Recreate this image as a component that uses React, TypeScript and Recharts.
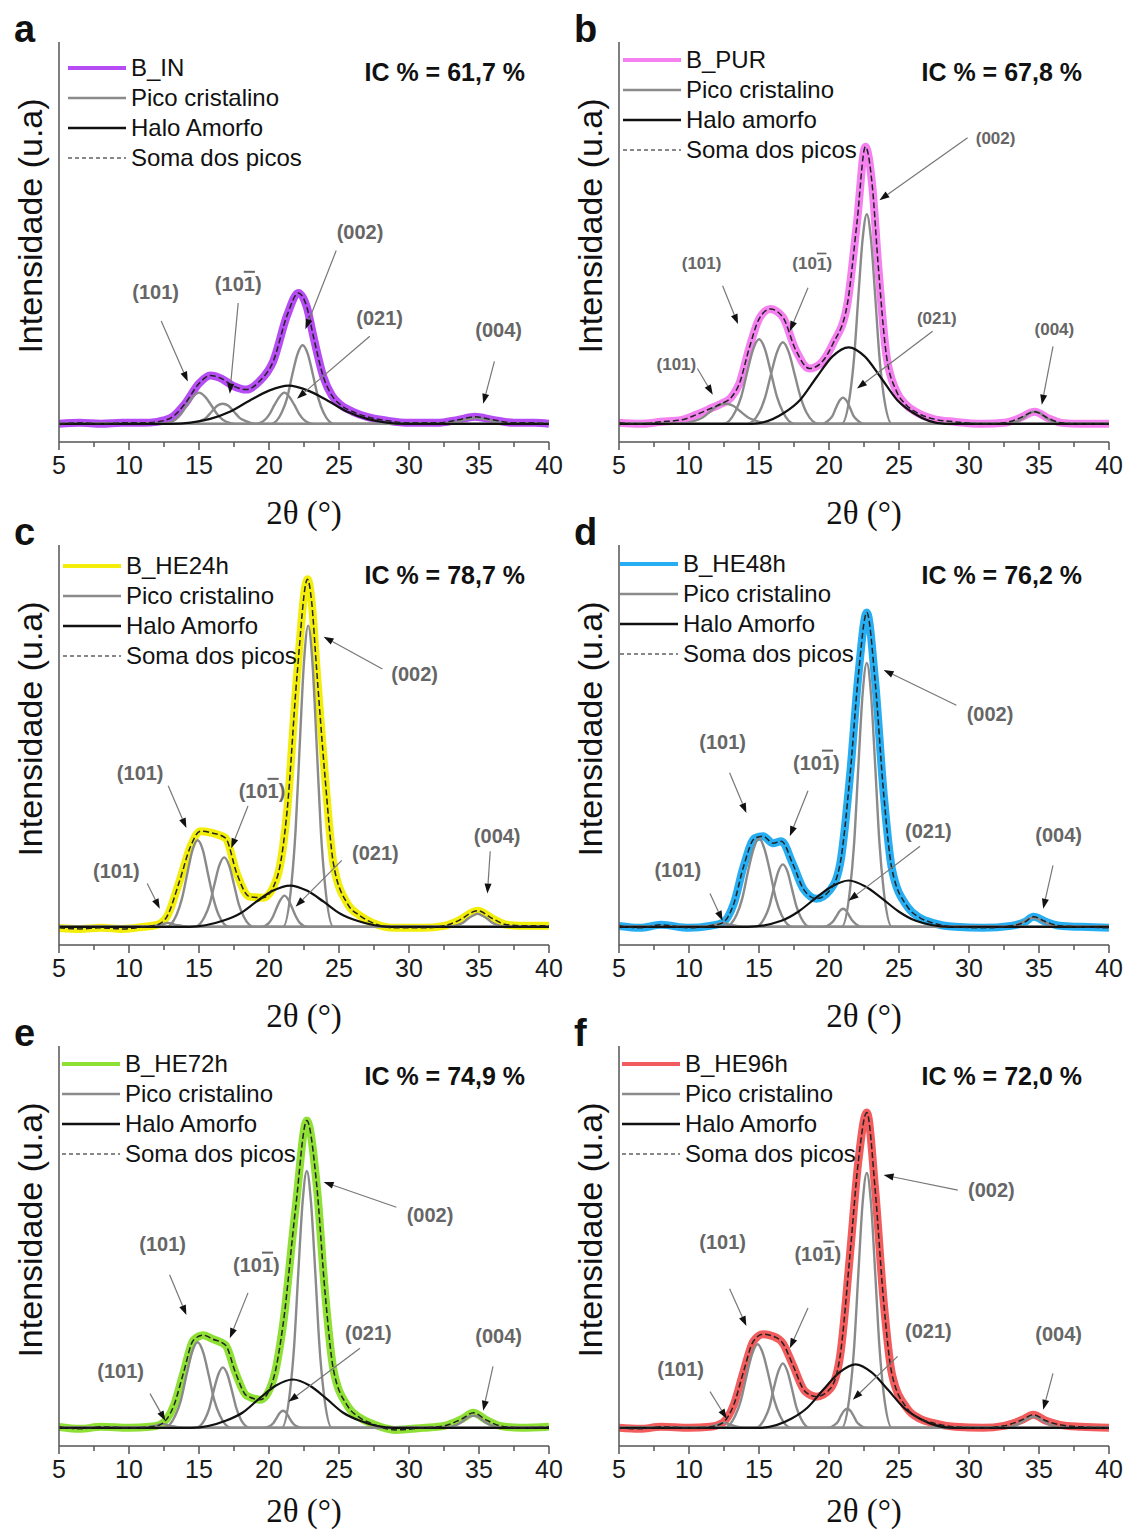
import React from "react";
import { LineChart, Line, XAxis, YAxis, ReferenceDot, ReferenceLine } from "recharts";

type P = [number, number];
type Note = { t: string; bar?: boolean; at: P; from: P; to: P };

const xTicks = [5, 7.5, 10, 12.5, 15, 17.5, 20, 22.5, 25, 27.5, 30, 32.5, 35, 37.5, 40];
const yDomain = [-18, 379];

// ---- a: B_IN
const aObs: P[] = [[5,0],[6.5,1],[8,0],[9.5,1],[11,1],[12,2],[13,6],[14,20],[15,40],[15.8,48],[16.6,45],[17.4,38],[18.4,34],[19.3,42],[20.3,62],[21.3,108],[22.1,130],[22.7,116],[23.2,85],[23.9,46],[24.5,28],[25.1,19],[26,12],[27,7],[28.5,3],[30,1],[32,1],[33.5,4],[34.7,7],[36,4],[37.5,1],[39,1],[40,0]];
const a101: P[] = [[5,0],[12.45,0],[13.3,4],[13.73,10],[14.15,19],[14.58,27],[15,31],[15.43,27],[15.85,19],[16.28,10],[16.7,4],[17.55,0],[40,0]];
const a10m: P[] = [[5,0],[14.3,0],[15.1,3],[15.5,6],[15.9,12],[16.3,18],[16.7,20],[17.1,18],[17.5,12],[17.9,6],[18.3,3],[19.1,0],[40,0]];
const a021: P[] = [[5,0],[19,0],[19.7,4],[20.05,10],[20.4,19],[20.75,27],[21.1,31],[21.45,27],[21.8,19],[22.15,10],[22.5,4],[23.2,0],[40,0]];
const a002: P[] = [[5,0],[20.15,0],[20.9,11],[21.28,25],[21.65,48],[22.03,69],[22.4,78],[22.78,69],[23.15,48],[23.53,25],[23.9,11],[24.65,0],[40,0]];
const a004: P[] = [[5,0],[32.1,0],[33,1],[33.45,2],[33.9,4],[34.35,5],[34.8,6],[35.25,5],[35.7,4],[36.15,2],[36.6,1],[37.5,0],[40,0]];
const aHalo: P[] = [[5,0],[13,0],[15.8,5],[17.2,12],[18.6,23],[20,33],[21.4,38],[22.8,33],[24.2,23],[25.6,12],[27,5],[29.8,0],[40,0]];
const aNotes: Note[] = [
  { t: "(101)", at: [11.9,131], from: [12.3,102], to: [14.2,42] },
  { t: "(101)", bar: true, at: [17.8,139], from: [17.8,120], to: [17.2,30] },
  { t: "(002)", at: [26.5,190], from: [24.8,172], to: [22.6,94] },
  { t: "(021)", at: [27.9,105], from: [27.2,87], to: [22.0,25] },
  { t: "(004)", at: [36.4,93], from: [36.1,62], to: [35.3,20] },
];

// ---- b: B_PUR
const bObs: P[] = [[5,1],[6.5,0],[8,2],[9.5,4],[10.5,9],[11.5,15],[12.3,20],[13,26],[13.6,40],[14.3,75],[15,104],[15.8,114],[16.7,106],[17.6,74],[18.6,55],[19.4,60],[20.3,80],[21.3,118],[22,200],[22.6,275],[23.1,235],[23.5,160],[24.1,68],[24.8,33],[25.5,19],[26.3,11],[27.4,5],[29,2],[31,0],[32.5,1],[33.5,5],[34.7,12],[35.6,6],[36.6,1],[38,0],[40,0]];
const b101a: P[] = [[5,0],[9.3,0],[10.4,3],[10.95,6],[11.5,12],[12.05,18],[12.6,20],[13.15,18],[13.7,12],[14.25,6],[14.8,3],[15.9,0],[40,0]];
const b101: P[] = [[5,0],[12.45,0],[13.3,12],[13.73,27],[14.15,51],[14.58,74],[15,84],[15.43,74],[15.85,51],[16.28,27],[16.7,12],[17.55,0],[40,0]];
const b10m: P[] = [[5,0],[14.15,0],[15,11],[15.43,26],[15.85,49],[16.28,71],[16.7,81],[17.13,71],[17.55,49],[17.98,26],[18.4,11],[19.25,0],[40,0]];
const b021: P[] = [[5,0],[19.5,0],[20,4],[20.25,8],[20.5,16],[20.75,23],[21,26],[21.25,23],[21.5,16],[21.75,8],[22,4],[22.5,0],[40,0]];
const b002: P[] = [[5,0],[20.9,0],[21.5,29],[21.8,67],[22.1,127],[22.4,183],[22.7,208],[23,183],[23.3,127],[23.6,67],[23.9,29],[24.5,0],[40,0]];
const b004: P[] = [[5,0],[32.6,0],[33.3,2],[33.65,4],[34,7],[34.35,11],[34.7,12],[35.05,11],[35.4,7],[35.75,4],[36.1,2],[36.8,0],[40,0]];
const bHalo: P[] = [[5,0],[14.5,0],[16.8,11],[17.95,24],[19.1,46],[20.25,67],[21.4,76],[22.55,67],[23.7,46],[24.85,24],[26,11],[28.3,0],[40,0]];
const bNotes: Note[] = [
  { t: "(101)", at: [10.9,159], from: [12.4,137], to: [13.5,99] },
  { t: "(101)", at: [9.1,59], from: [10.6,55], to: [11.7,29] },
  { t: "(101)", bar: true, at: [18.8,159], from: [18.5,135], to: [17.2,92] },
  { t: "(002)", at: [31.9,283], from: [29.9,284], to: [23.6,222] },
  { t: "(021)", at: [27.7,105], from: [27.4,92], to: [22.0,35] },
  { t: "(004)", at: [36.1,94], from: [36.0,77], to: [35.2,19] },
];

// ---- c: B_HE24h
const cObs: P[] = [[5,-1],[6.5,-2],[8,-1],[9.5,-2],[11,0],[12,2],[12.7,10],[13.6,45],[14.4,80],[15.1,95],[16,93],[16.9,88],[17.7,53],[18.6,30],[19.6,29],[20.6,50],[21.3,116],[22,249],[22.75,345],[23.05,322],[23.4,256],[24,149],[24.6,63],[25.6,23],[26.5,11],[27.4,4],[29,-1],[31,-1],[32.5,1],[33.5,6],[34.9,16],[36,8],[37,2],[38.5,1],[40,1]];
const c101a: P[] = [[5,0],[11.3,0],[11.8,1],[12.3,2],[12.8,4],[13.3,2],[13.8,1],[14.3,0],[40,0]];
const c101: P[] = [[5,0],[12.65,0],[13.4,12],[13.78,28],[14.15,52],[14.53,76],[14.9,86],[15.28,76],[15.65,52],[16.03,28],[16.4,12],[17.15,0],[40,0]];
const c10m: P[] = [[5,0],[14.7,0],[15.4,10],[15.75,22],[16.1,42],[16.45,61],[16.8,69],[17.15,61],[17.5,42],[17.85,22],[18.2,10],[18.9,0],[40,0]];
const c021: P[] = [[5,0],[19.45,0],[20,4],[20.28,10],[20.55,19],[20.83,27],[21.1,31],[21.38,27],[21.65,19],[21.93,10],[22.2,4],[22.75,0],[40,0]];
const c002: P[] = [[5,0],[21,0],[21.6,42],[21.9,96],[22.2,182],[22.5,263],[22.8,299],[23.1,263],[23.4,182],[23.7,96],[24,42],[24.6,0],[40,0]];
const c004: P[] = [[5,0],[32.8,0],[33.5,2],[33.85,4],[34.2,8],[34.55,11],[34.9,13],[35.25,11],[35.6,8],[35.95,4],[36.3,2],[37,0],[40,0]];
const cHalo: P[] = [[5,0],[14.3,0],[16.7,6],[17.9,13],[19.1,25],[20.3,36],[21.5,41],[22.7,36],[23.9,25],[25.1,13],[26.3,6],[28.7,0],[40,0]];
const cNotes: Note[] = [
  { t: "(002)", at: [30.4,251], from: [28.1,256], to: [23.9,288] },
  { t: "(101)", at: [10.8,153], from: [12.8,140], to: [14.1,98] },
  { t: "(101)", at: [9.1,55], from: [11.3,43], to: [12.2,18] },
  { t: "(101)", bar: true, at: [19.5,135], from: [18.5,120], to: [17.3,78] },
  { t: "(021)", at: [27.6,73], from: [25.2,66], to: [21.9,20] },
  { t: "(004)", at: [36.3,90], from: [35.8,75], to: [35.6,33] },
];

// ---- d: B_HE48h
const dObs: P[] = [[5,1],[6.5,-1],[8,2],[10,-1],[11.5,1],[12.4,4],[13.2,23],[13.9,60],[14.7,88],[15.3,90],[16,83],[16.6,85],[17.4,63],[18.2,37],[19.1,28],[20.1,37],[20.8,63],[21.5,150],[22.1,250],[22.7,312],[23.3,243],[23.9,133],[24.5,57],[25.6,20],[26.5,9],[27.4,4],[29,0],[31,-1],[33,1],[34,5],[34.6,10],[35.5,5],[36.5,1],[38,0],[40,-1]];
const d101a: P[] = [[5,0],[10.9,0],[11.4,1],[11.9,2],[12.4,4],[12.9,2],[13.4,1],[13.9,0],[40,0]];
const d101: P[] = [[5,0],[12.6,0],[13.4,12],[13.8,28],[14.2,54],[14.6,77],[15,88],[15.4,77],[15.8,54],[16.2,28],[16.6,12],[17.4,0],[40,0]];
const d10m: P[] = [[5,0],[14.75,0],[15.4,9],[15.73,20],[16.05,38],[16.38,55],[16.7,62],[17.03,55],[17.35,38],[17.68,20],[18,9],[18.65,0],[40,0]];
const d021: P[] = [[5,0],[19.65,0],[20.1,3],[20.33,6],[20.55,11],[20.78,16],[21,18],[21.23,16],[21.45,11],[21.68,6],[21.9,3],[22.35,0],[40,0]];
const d002: P[] = [[5,0],[20.9,0],[21.5,37],[21.8,84],[22.1,160],[22.4,231],[22.7,262],[23,231],[23.3,160],[23.6,84],[23.9,37],[24.5,0],[40,0]];
const d004: P[] = [[5,0],[32.5,0],[33.2,1],[33.55,3],[33.9,5],[34.25,8],[34.6,9],[34.95,8],[35.3,5],[35.65,3],[36,1],[36.7,0],[40,0]];
const dHalo: P[] = [[5,0],[14.2,0],[16.6,6],[17.8,15],[19,28],[20.2,40],[21.4,46],[22.6,40],[23.8,28],[25,15],[26.2,6],[28.6,0],[40,0]];
const dNotes: Note[] = [
  { t: "(002)", at: [31.5,211], from: [29.1,220], to: [23.9,255] },
  { t: "(101)", at: [12.4,183], from: [12.9,153], to: [14.1,113] },
  { t: "(101)", at: [9.2,56], from: [11.5,33], to: [12.4,6] },
  { t: "(101)", bar: true, at: [19.1,163], from: [18.5,135], to: [17.2,90] },
  { t: "(021)", at: [27.1,95], from: [26.5,80], to: [21.4,26] },
  { t: "(004)", at: [36.4,91], from: [36.0,61], to: [35.3,18] },
];

// ---- e: B_HE72h
const eObs: P[] = [[5,1],[6.5,-1],[8,1],[10,0],[11.5,1],[12.2,3],[13.2,22],[13.9,55],[14.6,87],[15.3,92],[16,88],[16.9,82],[17.6,55],[18.4,32],[19.4,28],[20.3,48],[21,102],[21.9,218],[22.7,305],[23.4,242],[24,135],[24.6,58],[25.6,22],[26.5,10],[27.4,4],[29,-2],[31,0],[32.5,2],[33.8,9],[34.6,15],[35.5,8],[36.5,2],[38,0],[40,1]];
const e101a: P[] = [[5,0],[10.9,0],[11.4,1],[11.9,2],[12.4,4],[12.9,2],[13.4,1],[13.9,0],[40,0]];
const e101: P[] = [[5,0],[12.5,0],[13.3,12],[13.7,27],[14.1,52],[14.5,75],[14.9,85],[15.3,75],[15.7,52],[16.1,27],[16.5,12],[17.3,0],[40,0]];
const e10m: P[] = [[5,0],[14.75,0],[15.4,8],[15.73,19],[16.05,37],[16.38,53],[16.7,60],[17.03,53],[17.35,37],[17.68,19],[18,8],[18.65,0],[40,0]];
const e021: P[] = [[5,0],[19.65,0],[20.1,2],[20.33,5],[20.55,10],[20.78,15],[21,17],[21.23,15],[21.45,10],[21.68,5],[21.9,2],[22.35,0],[40,0]];
const e002: P[] = [[5,0],[20.9,0],[21.5,36],[21.8,82],[22.1,156],[22.4,224],[22.7,255],[23,224],[23.3,156],[23.6,82],[23.9,36],[24.5,0],[40,0]];
const e004: P[] = [[5,0],[32.5,0],[33.2,2],[33.55,4],[33.9,7],[34.25,11],[34.6,12],[34.95,11],[35.3,7],[35.65,4],[36,2],[36.7,0],[40,0]];
const eHalo: P[] = [[5,0],[14.5,0],[16.9,7],[18.1,15],[19.3,29],[20.5,42],[21.7,48],[22.9,42],[24.1,29],[25.3,15],[26.5,7],[28.9,0],[40,0]];
const eNotes: Note[] = [
  { t: "(002)", at: [31.5,211], from: [29.1,219], to: [23.9,244] },
  { t: "(101)", at: [12.4,182], from: [12.9,152], to: [14.1,112] },
  { t: "(101)", at: [9.4,56], from: [11.5,34], to: [12.6,7] },
  { t: "(101)", bar: true, at: [19.1,162], from: [18.5,134], to: [17.2,89] },
  { t: "(021)", at: [27.1,94], from: [26.5,79], to: [21.4,26] },
  { t: "(004)", at: [36.4,91], from: [36.0,61], to: [35.3,17] },
];

// ---- f: B_HE96h
const fObs: P[] = [[5,0],[6.5,-1],[8,1],[10,0],[11.5,1],[12.4,5],[13.2,23],[13.9,56],[14.6,86],[15.3,93],[16,91],[16.7,84],[17.4,63],[18.3,36],[19.1,31],[20.1,39],[20.8,72],[21.5,172],[22.1,265],[22.7,313],[23.3,236],[23.9,126],[24.5,53],[25.6,19],[26.5,9],[27.4,5],[29,1],[31,0],[32.5,2],[33.8,8],[34.6,13],[35.5,7],[36.5,3],[38,1],[40,0]];
const f101a: P[] = [[5,0],[11,0],[11.5,1],[12,3],[12.5,5],[13,3],[13.5,1],[14,0],[40,0]];
const f101: P[] = [[5,0],[12.5,0],[13.3,12],[13.7,27],[14.1,51],[14.5,73],[14.9,83],[15.3,73],[15.7,51],[16.1,27],[16.5,12],[17.3,0],[40,0]];
const f10m: P[] = [[5,0],[14.75,0],[15.4,9],[15.73,20],[16.05,39],[16.38,56],[16.7,64],[17.03,56],[17.35,39],[17.68,20],[18,9],[18.65,0],[40,0]];
const f021: P[] = [[5,0],[19.95,0],[20.4,3],[20.63,6],[20.85,12],[21.08,17],[21.3,19],[21.53,17],[21.75,12],[21.98,6],[22.2,3],[22.65,0],[40,0]];
const f002: P[] = [[5,0],[20.9,0],[21.5,35],[21.8,81],[22.1,154],[22.4,223],[22.7,253],[23,223],[23.3,154],[23.6,81],[23.9,35],[24.5,0],[40,0]];
const f004: P[] = [[5,0],[32.5,0],[33.2,2],[33.55,4],[33.9,7],[34.25,10],[34.6,11],[34.95,10],[35.3,7],[35.65,4],[36,2],[36.7,0],[40,0]];
const fHalo: P[] = [[5,0],[15,0],[17.3,9],[18.45,20],[19.6,38],[20.75,55],[21.9,63],[23.05,55],[24.2,38],[25.35,20],[26.5,9],[28.8,0],[40,0]];
const fNotes: Note[] = [
  { t: "(002)", at: [31.6,236], from: [29.2,236], to: [23.9,251] },
  { t: "(101)", at: [12.4,184], from: [12.9,138], to: [14.1,101] },
  { t: "(101)", at: [9.4,58], from: [11.5,36], to: [12.7,9] },
  { t: "(101)", bar: true, at: [19.2,173], from: [18.5,119], to: [17.2,79] },
  { t: "(021)", at: [27.1,96], from: [24.9,71], to: [21.7,28] },
  { t: "(004)", at: [36.4,93], from: [36.0,54], to: [35.3,18] },
];

const legendRest = ["Pico cristalino", "Halo Amorfo", "Soma dos picos"];

const panels = [
  { letter: "a", name: "B_IN", color: "#b64cf4", ic: "IC % = 61,7 %", obs: aObs, peaks: [a101, a10m, a021, a002, a004], halo: aHalo, notes: aNotes, halo2: "Halo Amorfo", left: 0, top: 0, legX: 68, legY: 53, icR: 55, noteSize: 20, titleOff: 16 },
  { letter: "b", name: "B_PUR", color: "#f580f0", ic: "IC % = 67,8 %", obs: bObs, peaks: [b101a, b101, b10m, b021, b002, b004], halo: bHalo, notes: bNotes, halo2: "Halo amorfo", left: 560, top: 0, legX: 63, legY: 45, icR: 58, noteSize: 17, titleOff: 16 },
  { letter: "c", name: "B_HE24h", color: "#f2ee0a", ic: "IC % = 78,7 %", obs: cObs, peaks: [c101a, c101, c10m, c021, c002, c004], halo: cHalo, notes: cNotes, halo2: "Halo Amorfo", left: 0, top: 503, legX: 63, legY: 48, icR: 55, noteSize: 20, titleOff: 16 },
  { letter: "d", name: "B_HE48h", color: "#27aef2", ic: "IC % = 76,2 %", obs: dObs, peaks: [d101a, d101, d10m, d021, d002, d004], halo: dHalo, notes: dNotes, halo2: "Halo Amorfo", left: 560, top: 503, legX: 60, legY: 46, icR: 58, noteSize: 20, titleOff: 16 },
  { letter: "e", name: "B_HE72h", color: "#8fe034", ic: "IC % = 74,9 %", obs: eObs, peaks: [e101a, e101, e10m, e021, e002, e004], halo: eHalo, notes: eNotes, halo2: "Halo Amorfo", left: 0, top: 1004, legX: 62, legY: 45, icR: 55, noteSize: 20, titleOff: 22 },
  { letter: "f", name: "B_HE96h", color: "#f25c5c", ic: "IC % = 72,0 %", obs: fObs, peaks: [f101a, f101, f10m, f021, f002, f004], halo: fHalo, notes: fNotes, halo2: "Halo Amorfo", left: 560, top: 1004, legX: 62, legY: 45, icR: 58, noteSize: 20, titleOff: 22 },
];

const SANS = "'Liberation Sans', Arial, sans-serif";
const FRAME = "#555";
const GRAY = "#8a8a8a";

const pts = (a: P[]) => a.map(([x, y]) => ({ x, y }));

function XTick(props: any) {
  const { x, y, payload } = props;
  const major = payload.value % 5 === 0;
  return (
    <g>
      <line x1={x} x2={x} y1={y} y2={y + (major ? 8 : 5)} stroke={FRAME} strokeWidth={1.5} />
      {major && (
        <text x={x} y={y + 32} textAnchor="middle" fontSize={25} fontFamily={SANS} fill="#1a1a1a">
          {payload.value}
        </text>
      )}
    </g>
  );
}

function Arrow(props: any) {
  const { x1, y1, x2, y2 } = props;
  const dx = x2 - x1;
  const dy = y2 - y1;
  const len = Math.hypot(dx, dy) || 1;
  const ux = dx / len;
  const uy = dy / len;
  const bx = x2 - ux * 10;
  const by = y2 - uy * 10;
  return (
    <g>
      <line x1={x1} y1={y1} x2={bx} y2={by} stroke="#777" strokeWidth={1.2} />
      <polygon points={`${x2},${y2} ${bx - uy * 3.5},${by + ux * 3.5} ${bx + uy * 3.5},${by - ux * 3.5}`} fill="#111" />
    </g>
  );
}

function noteText(n: Note, size: number) {
  return (props: any) => (
    <text x={props.cx} y={props.cy} textAnchor="middle" dominantBaseline="central" fontSize={size} fontWeight="bold" fontFamily={SANS} fill="#666">
      {n.bar ? (
        <>
          (10<tspan style={{ textDecoration: "overline" }}>1</tspan>)
        </>
      ) : (
        n.t
      )}
    </text>
  );
}

function Panel({ p }: { p: (typeof panels)[number] }) {
  const legend = [p.name, legendRest[0], p.halo2, legendRest[2]];
  return (
    <div style={{ position: "absolute", left: p.left, top: p.top, width: 580, height: 540 }}>
      <LineChart width={580} height={540} margin={{ top: 42, right: 31, bottom: 0, left: 0 }}>
        <XAxis
          dataKey="x"
          type="number"
          domain={[5, 40]}
          allowDataOverflow
          ticks={xTicks}
          interval={0}
          tick={<XTick />}
          tickLine={false}
          tickSize={0}
          tickMargin={0}
          height={98}
          axisLine={{ stroke: FRAME, strokeWidth: 1.5 }}
          label={{ value: "2θ (°)", position: "insideBottom", offset: p.titleOff, fontSize: 33, fontFamily: "'Liberation Serif', serif", fill: "#111" }}
        />
        <XAxis xAxisId="top" orientation="top" dataKey="x" type="number" domain={[5, 40]} allowDataOverflow height={0} tick={false} tickLine={false} axisLine={{ stroke: FRAME, strokeWidth: 1.5 }} />
        <YAxis
          type="number"
          domain={yDomain}
          allowDataOverflow
          width={59}
          tick={false}
          tickLine={false}
          axisLine={{ stroke: FRAME, strokeWidth: 1.5 }}
          label={{ value: "Intensidade (u.a)", angle: -90, position: "center", dy: -16, fontSize: 34, fontFamily: SANS, fill: "#111" }}
        />
        <YAxis yAxisId="r" orientation="right" type="number" domain={yDomain} allowDataOverflow width={0} tick={false} tickLine={false} axisLine={{ stroke: FRAME, strokeWidth: 1.5 }} />
        <Line data={pts(p.obs)} dataKey="y" type="monotone" stroke={p.color} strokeWidth={8} strokeLinejoin="round" dot={false} isAnimationActive={false} />
        {p.peaks.map((pk, i) => (
          <Line key={"pk" + i} data={pts(pk)} dataKey="y" type="monotone" stroke={GRAY} strokeWidth={2.4} dot={false} isAnimationActive={false} />
        ))}
        <Line data={pts(p.halo)} dataKey="y" type="monotone" stroke="#111" strokeWidth={2.2} dot={false} isAnimationActive={false} />
        <Line data={pts(p.obs)} dataKey="y" type="monotone" stroke="#222" strokeWidth={1.5} strokeDasharray="6 3" dot={false} isAnimationActive={false} />
        {p.notes.map((n, i) => (
          <ReferenceLine key={"ar" + i} segment={[{ x: n.from[0], y: n.from[1] }, { x: n.to[0], y: n.to[1] }]} shape={Arrow} />
        ))}
        {p.notes.map((n, i) => (
          <ReferenceDot key={"nt" + i} x={n.at[0]} y={n.at[1]} r={1} shape={noteText(n, p.noteSize)} />
        ))}
      </LineChart>

      <div style={{ position: "absolute", left: 14, top: 10, fontFamily: SANS, fontWeight: "bold", fontSize: 38, lineHeight: "38px", color: "#111" }}>
        {p.letter}
      </div>

      <div style={{ position: "absolute", left: p.legX, top: p.legY, fontFamily: SANS, fontSize: 24, color: "#111" }}>
        {legend.map((lab, i) => (
          <div key={lab} style={{ display: "flex", alignItems: "center", height: 30 }}>
            <svg width={58} height={30} style={{ marginRight: 5 }}>
              <line
                x1={0}
                x2={58}
                y1={15}
                y2={15}
                stroke={i === 0 ? p.color : i === 1 ? GRAY : "#111"}
                strokeWidth={i === 0 ? 4 : i === 3 ? 1.2 : 2.4}
                strokeDasharray={i === 3 ? "4 3" : undefined}
              />
            </svg>
            <span style={{ lineHeight: "30px", whiteSpace: "nowrap" }}>{lab}</span>
          </div>
        ))}
      </div>

      <div style={{ position: "absolute", right: p.icR, top: 57, fontFamily: SANS, fontWeight: "bold", fontSize: 25, lineHeight: "30px", color: "#111", whiteSpace: "nowrap" }}>
        {p.ic}
      </div>
    </div>
  );
}

export default function App() {
  return (
    <div style={{ position: "absolute", left: 0, top: 0, width: 1129, height: 1533, overflow: "hidden", background: "#fff" }}>
      {panels.map((p) => (
        <Panel key={p.letter} p={p} />
      ))}
    </div>
  );
}
